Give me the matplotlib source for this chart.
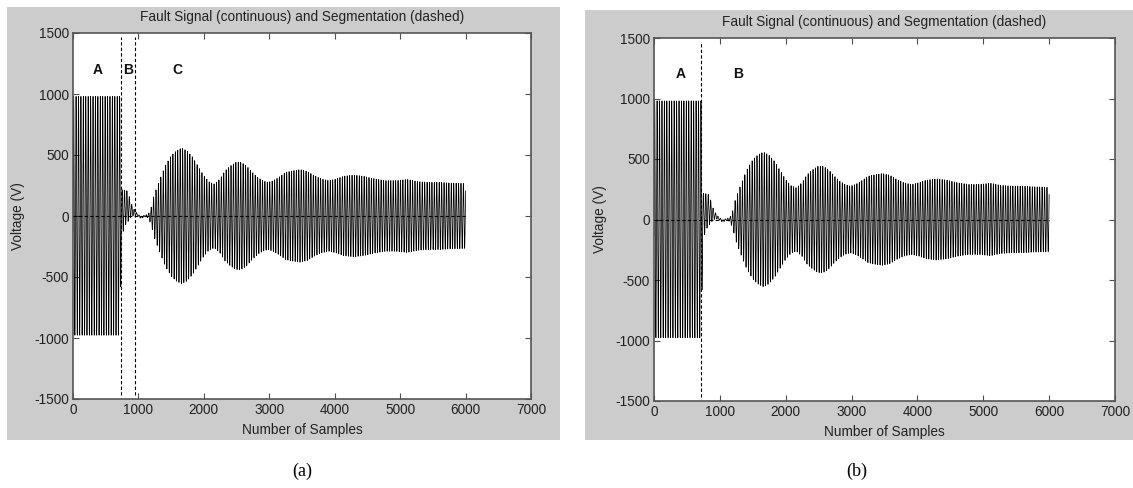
import numpy as np
import matplotlib
matplotlib.use("Agg")
import matplotlib.pyplot as plt
from matplotlib.patches import Rectangle

# ---------------- data ----------------
n_samples = 6000
carrier_period = 37.0          # samples per cycle (estimated from stroke spacing)
carrier_phase = -0.133         # first sample about -130 V

env_x = [0, 722, 738, 780, 850, 900, 950, 1000, 1100, 1150, 1200, 1235, 1320,
         1410, 1500, 1580, 1660, 1740, 1830, 1920, 2000, 2080, 2160, 2245,
         2325, 2410, 2490, 2570, 2650, 2740, 2820, 2900, 2980, 3060, 3145,
         3250, 3360, 3470, 3580, 3690, 3800, 3910, 4020, 4130, 4290, 4450,
         4620, 4780, 4940, 5110, 5270, 5430, 5600, 5760, 5930, 6000]
env_amp = [980, 980, 200, 160, 110, 45, 18, 10, 8, 15, 80, 166, 290,
           412, 494, 535, 557, 535, 481, 400, 330, 280, 262, 303,
           371, 412, 440, 440, 412, 358, 317, 290, 276, 290, 317,
           358, 371, 380, 366, 330, 303, 290, 303, 325, 336, 325,
           303, 290, 290, 300, 282, 276, 276, 270, 268, 265]

offset_x = [0, 730, 760, 820, 870, 920, 980, 1040, 1100, 6000]
offset_v = [0, 0, 40, 80, 60, 35, 10, -12, 0, 0]

seg_a = [735, 940]
seg_b = [715]
labels_a = [("A", 380), ("B", 850), ("C", 1590)]
labels_b = [("A", 400), ("B", 1280)]
label_y = 1200

xticks = [0, 1000, 2000, 3000, 4000, 5000, 6000, 7000]
yticks = [-1500, -1000, -500, 0, 500, 1000, 1500]

title = "Fault Signal (continuous) and Segmentation (dashed)"
xlabel = "Number of Samples"
ylabel = "Voltage (V)"

# ---------------- signal ----------------
n = np.arange(n_samples + 1)
env = np.interp(n, env_x, env_amp)
off = np.interp(n, offset_x, offset_v)
signal = env * np.sin(2 * np.pi * n / carrier_period + carrier_phase) + off

# ---------------- figure ----------------
W, H = 1133, 488
plt.rcParams["font.family"] = ["Liberation Sans", "DejaVu Sans"]
plt.rcParams["axes.unicode_minus"] = False
fig = plt.figure(figsize=(W / 100, H / 100), dpi=100)
fig.patch.set_facecolor("white")

def px_rect(x0, y0, x1, y1):
    return [x0 / W, 1 - y1 / H, (x1 - x0) / W, (y1 - y0) / H]

def ftext(x, y, s, **kw):
    fig.text(x / W, 1 - y / H, s, ha=kw.pop("ha", "center"),
             va=kw.pop("va", "center"), **kw)

gray = "#cccccc"
fs = 9.8
for (x0, y0, x1, y1) in [(7, 7, 560, 440), (585, 10, 1133, 440)]:
    fig.patches.append(Rectangle((x0 / W, 1 - y1 / H), (x1 - x0) / W,
                                 (y1 - y0) / H, transform=fig.transFigure,
                                 facecolor=gray, edgecolor="none", zorder=-10))

panels = [
    dict(box=(73, 33, 531, 399), segs=seg_a, labels=labels_a,
         title_xy=(302, 17), xl_xy=(302, 430), yl_xy=(18, 216), cap=("(a)", 302, 471)),
    dict(box=(654, 38, 1115, 401), segs=seg_b, labels=labels_b,
         title_xy=(884, 22), xl_xy=(884, 432), yl_xy=(600, 219), cap=("(b)", 857, 471)),
]

for p in panels:
    ax = fig.add_axes(px_rect(*p["box"]))
    ax.set_zorder(1)
    ax.set_facecolor("white")
    ax.plot(n, signal, color="black", lw=0.55, zorder=2)
    ax.plot([0, n_samples], [0, 0], color="black", lw=0.8,
            linestyle=(0, (3, 2)), zorder=3)
    for s in p["segs"]:
        ax.plot([s, s], [-1465, 1465], color="black", lw=0.8,
                linestyle=(0, (3, 2)), zorder=3)
    for txt, xx in p["labels"]:
        ax.text(xx, label_y, txt, ha="center", va="center",
                fontsize=10, fontweight="bold", color="#111111")
    ax.set_xlim(0, 7000)
    ax.set_ylim(-1500, 1500)
    ax.set_xticks(xticks)
    ax.set_yticks(yticks)
    ax.tick_params(direction="in", length=4, width=0.8, top=True, right=True,
                   colors="#505050", labelcolor="#222222", labelsize=fs, pad=3)
    for sp in ax.spines.values():
        sp.set_color("#555555")
        sp.set_linewidth(1.2)
    ftext(*p["title_xy"], title, fontsize=fs, color="#222222")
    ftext(*p["xl_xy"], xlabel, fontsize=fs, color="#222222")
    ftext(*p["yl_xy"], ylabel, fontsize=fs, color="#222222", rotation=90)
    cap, cx, cy = p["cap"]
    ftext(cx, cy, cap, fontsize=13, family=["Liberation Serif", "DejaVu Serif"],
          color="black")

fig.savefig("out.png", dpi=100, facecolor="white")
